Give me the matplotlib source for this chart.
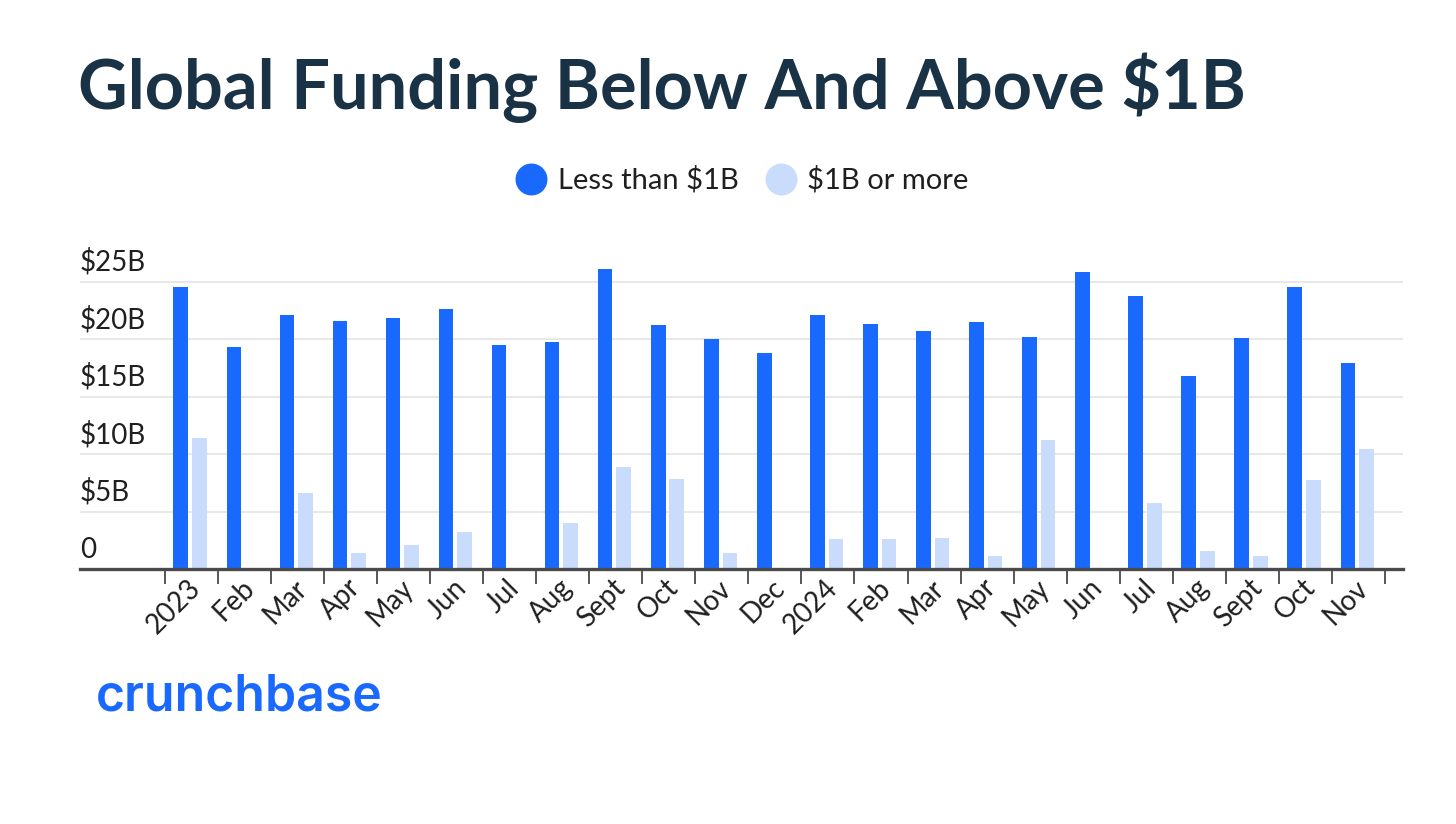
import numpy as np
import matplotlib.pyplot as plt
from matplotlib.lines import Line2D

months = ['2023', 'Feb', 'Mar', 'Apr', 'May', 'Jun', 'Jul', 'Aug', 'Sept', 'Oct', 'Nov', 'Dec',
          '2024', 'Feb', 'Mar', 'Apr', 'May', 'Jun', 'Jul', 'Aug', 'Sept', 'Oct', 'Nov']
below_1b = [24.5, 19.3, 22.1, 21.6, 21.8, 22.6, 19.5, 19.7, 26.1, 21.2, 20.0, 18.8,
            22.1, 21.3, 20.7, 21.5, 20.2, 25.8, 23.7, 16.8, 20.1, 24.5, 17.9]
above_1b = [11.4, 0, 6.6, 1.4, 2.1, 3.2, 0, 4.0, 8.9, 7.8, 1.4, 0,
            2.6, 2.6, 2.7, 1.1, 11.2, 0, 5.7, 1.6, 1.1, 7.7, 10.4]
y_ticks = [0, 5, 10, 15, 20, 25]
y_labels = ['0', '$5B', '$10B', '$15B', '$20B', '$25B']

blue = '#1a69fe'
light = '#cadcfb'
navy = '#1a3245'
axis_grey = '#4a4a4a'
text_col = '#1f1f1f'

plt.rcParams['font.family'] = ['Lato', 'DejaVu Sans']

fig = plt.figure(figsize=(14.56, 8.24), dpi=100)
ax = fig.add_axes([80 / 1456, 255 / 824, 1323 / 1456, 305 / 824])

x = np.arange(len(months))
w = 0.275
ax.bar(x - 0.2, below_1b, width=w, color=blue, zorder=3)
ax.bar(x + 0.15, above_1b, width=w, color=light, zorder=3)

ax.set_xlim(-2.1, 22.84)
ax.set_ylim(0, 305 / 11.5)

# gridlines and y labels sitting above the lines
for v, lab in zip(y_ticks, y_labels):
    if v > 0:
        ax.axhline(v, color='#e8e8e8', lw=1.5, zorder=1)
    ax.annotate(lab, xy=(0, v), xycoords=('axes fraction', 'data'),
                xytext=(0, 6), textcoords='offset pixels',
                ha='left', va='bottom', fontsize=20, color=text_col)

ax.set_yticks([])
for s in ['top', 'right', 'left']:
    ax.spines[s].set_visible(False)
ax.spines['bottom'].set_color(axis_grey)
ax.spines['bottom'].set_linewidth(2.4)
ax.spines['bottom'].set_zorder(4)

ax.set_xticks(np.arange(len(months) + 1) - 0.5)
ax.set_xticklabels([])
ax.tick_params(axis='x', which='major', length=11, width=1.3, color=axis_grey)
ax.set_xticks(x - 0.07, minor=True)
ax.set_xticklabels(months, minor=True, rotation=45, ha='right', va='top',
                   rotation_mode='anchor', fontsize=20, color=text_col)
ax.tick_params(axis='x', which='minor', length=0, pad=4)

fig.text(78 / 1456, 1 - 88 / 824, 'Global Funding Below And Above $1B',
         fontsize=49.3, fontweight='bold', color=navy, va='center', ha='left')

handles = [Line2D([], [], marker='o', ls='', markersize=22, color=blue),
           Line2D([], [], marker='o', ls='', markersize=22, color=light)]
fig.legend(handles, ['Less than $1B', '$1B or more'], loc='center',
           bbox_to_anchor=(742 / 1456, 1 - 180 / 824), ncol=2, frameon=False,
           fontsize=21, handletextpad=0.35, columnspacing=0.9, handlelength=1.1,
           labelcolor=text_col)

fig.text(96 / 1456, 1 - 697 / 824, 'crunchbase', fontsize=36, fontweight='semibold',
         color=blue, va='center', ha='left', family=['Inter', 'DejaVu Sans'])

fig.savefig('out.png', dpi=100, facecolor='white')
